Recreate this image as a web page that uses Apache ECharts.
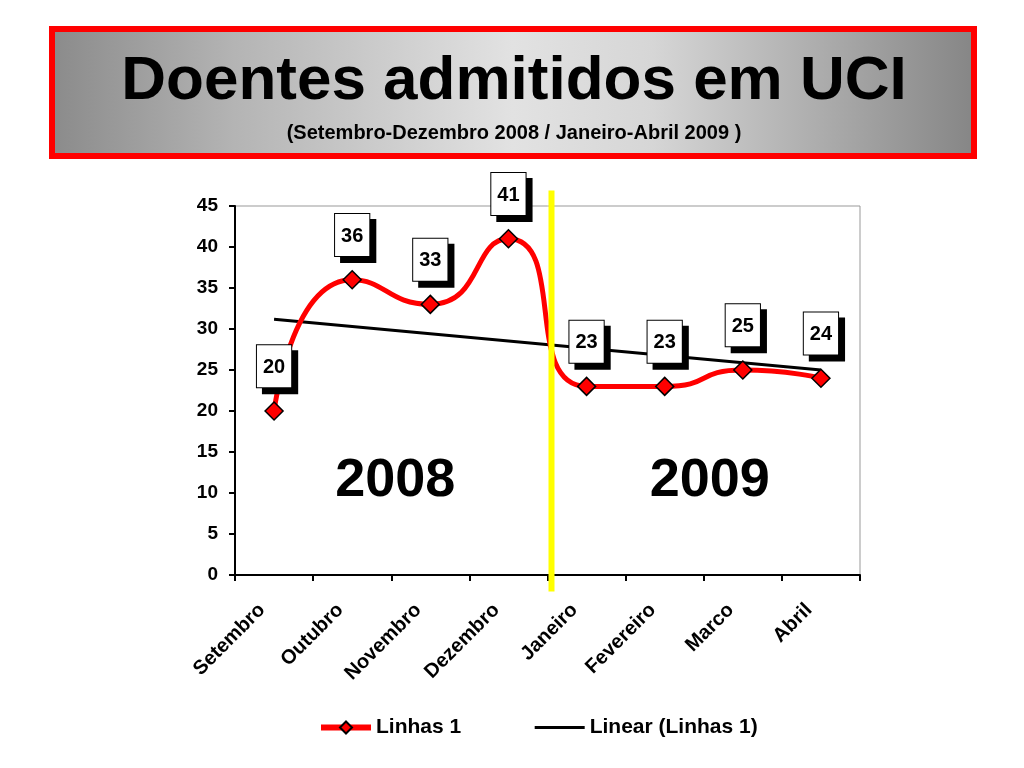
<!DOCTYPE html>
<html>
<head>
<meta charset="utf-8">
<script src="https://cdn.jsdelivr.net/npm/echarts@6/dist/echarts.min.js"></script>
<style>
  html, body { margin: 0; padding: 0; background: #fff; }
  #chart { width: 1024px; height: 768px; }
</style>
</head>
<body>
<div id="chart"></div>
<script>
// dados
var meses = ['Setembro', 'Outubro', 'Novembro', 'Dezembro', 'Janeiro', 'Fevereiro', 'Marco', 'Abril'];
var doentes = [20, 36, 33, 41, 23, 23, 25, 24];
// linha de tendencia (inicio e fim)
var tendencia = [[0, 31.2], [7, 25.0]];
var yTicks = { min: 0, max: 45, interval: 5 };
var anos = ['2008', '2009'];

var fonte = '"Liberation Sans", Arial, sans-serif';
var myChart = echarts.init(document.getElementById('chart'));

var option = {
    animation: false,
    textStyle: { fontFamily: fonte },
    grid: {
        left: 235, right: 164, top: 206, bottom: 193,
        show: true, borderColor: '#999', borderWidth: 1
    },
    legend: {
        bottom: 25,
        left: 313,
        itemWidth: 50,
        itemHeight: 15,
        itemGap: 72,
        textStyle: { fontSize: 21, fontWeight: 'bold', color: '#000', fontFamily: fonte },
        data: [
            { name: 'Linhas 1', lineStyle: { width: 6 } },
            { name: 'Linear (Linhas 1)', itemStyle: { opacity: 0 }, lineStyle: { width: 3 } }
        ]
    },
    xAxis: {
        type: 'category',
        data: meses,
        boundaryGap: true,
        axisLine: { lineStyle: { color: '#000', width: 2 } },
        axisTick: { show: true, length: 6, lineStyle: { color: '#000', width: 2 } },
        axisLabel: {
            interval: 0, rotate: 45, margin: 20,
            padding: [0, 17, 0, 0],
            fontSize: 20, fontWeight: 'bold', color: '#000', fontFamily: fonte
        }
    },
    yAxis: {
        type: 'value',
        min: yTicks.min, max: yTicks.max, interval: yTicks.interval,
        axisLine: { show: true, lineStyle: { color: '#000', width: 2 } },
        axisTick: { show: true, length: 6, lineStyle: { color: '#000', width: 2 } },
        splitLine: { show: false },
        axisLabel: { fontSize: 19, fontWeight: 'bold', color: '#000', margin: 17, fontFamily: fonte }
    },
    series: [
        {
            name: 'Linhas 1',
            type: 'line',
            data: doentes,
            smooth: 0.6,
            symbol: 'diamond',
            symbolSize: 18,
            z: 3,
            lineStyle: { color: '#ff0000', width: 5 },
            itemStyle: { color: '#ff0000', borderColor: '#000', borderWidth: 1.5 },
            label: {
                show: true,
                position: 'top',
                distance: 14,
                fontSize: 20,
                fontWeight: 'bold',
                color: '#000',
                fontFamily: fonte,
                backgroundColor: '#fff',
                borderColor: '#000',
                borderWidth: 1,
                padding: [12, 6, 10, 6],
                shadowColor: '#000',
                shadowOffsetX: 6,
                shadowOffsetY: 6,
                shadowBlur: 0
            }
        },
        {
            name: 'Linear (Linhas 1)',
            type: 'line',
            data: tendencia,
            symbol: 'none',
            z: 2,
            lineStyle: { color: '#000', width: 3 },
            itemStyle: { color: '#000' }
        }
    ]
};
myChart.setOption(option);

// linha amarela entre Dezembro e Janeiro + anos
var xa = myChart.convertToPixel({ xAxisIndex: 0 }, 3);
var xb = myChart.convertToPixel({ xAxisIndex: 0 }, 4);
var xm = (xa + xb) / 2 + 4;
var yTop = myChart.convertToPixel({ yAxisIndex: 0 }, 46.9);
var yBot = myChart.convertToPixel({ yAxisIndex: 0 }, -2);
var yAno = myChart.convertToPixel({ yAxisIndex: 0 }, 11.5);
var xc1 = (myChart.convertToPixel({ xAxisIndex: 0 }, 1) + myChart.convertToPixel({ xAxisIndex: 0 }, 2)) / 2;
var xc2 = (myChart.convertToPixel({ xAxisIndex: 0 }, 5) + myChart.convertToPixel({ xAxisIndex: 0 }, 6)) / 2;

var estiloAno = {
    font: 'bold 54px ' + fonte,
    fill: '#000',
    align: 'center',
    verticalAlign: 'middle',
    shadowColor: 'rgba(0,0,0,0.35)',
    shadowOffsetX: 3,
    shadowOffsetY: 3
};

myChart.setOption({
    graphic: [
        {
            type: 'rect',
            shape: { x: 52, y: 29, width: 922, height: 127 },
            style: {
                fill: {
                    type: 'linear', x: 0, y: 0, x2: 1, y2: 0,
                    colorStops: [
                        { offset: 0, color: '#8a8a8a' },
                        { offset: 0.2, color: '#b4b4b4' },
                        { offset: 0.5, color: '#e2e2e2' },
                        { offset: 0.65, color: '#d6d6d6' },
                        { offset: 0.85, color: '#a8a8a8' },
                        { offset: 1, color: '#858585' }
                    ]
                },
                stroke: '#ff0000',
                lineWidth: 6
            },
            z: 0
        },
        {
            type: 'text',
            x: 514, y: 82,
            style: {
                text: 'Doentes admitidos em UCI',
                font: 'bold 62px ' + fonte,
                fill: '#000',
                align: 'center',
                verticalAlign: 'middle',
                shadowColor: 'rgba(255,255,255,0.8)',
                shadowOffsetX: 2,
                shadowOffsetY: 2
            },
            z: 1
        },
        {
            type: 'text',
            x: 514, y: 133,
            style: {
                text: '(Setembro-Dezembro 2008 / Janeiro-Abril 2009 )',
                font: 'bold 20px ' + fonte,
                fill: '#000',
                align: 'center',
                verticalAlign: 'middle'
            },
            z: 1
        },
        {
            type: 'line',
            shape: { x1: xm, y1: yTop, x2: xm, y2: yBot },
            style: { stroke: '#ffff00', lineWidth: 6 },
            z: 10
        },
        {
            type: 'text',
            x: xc1 + 4, y: yAno,
            style: Object.assign({ text: anos[0] }, estiloAno),
            z: 10
        },
        {
            type: 'text',
            x: xc2 + 6, y: yAno,
            style: Object.assign({ text: anos[1] }, estiloAno),
            z: 10
        }
    ]
});
</script>
</body>
</html>
